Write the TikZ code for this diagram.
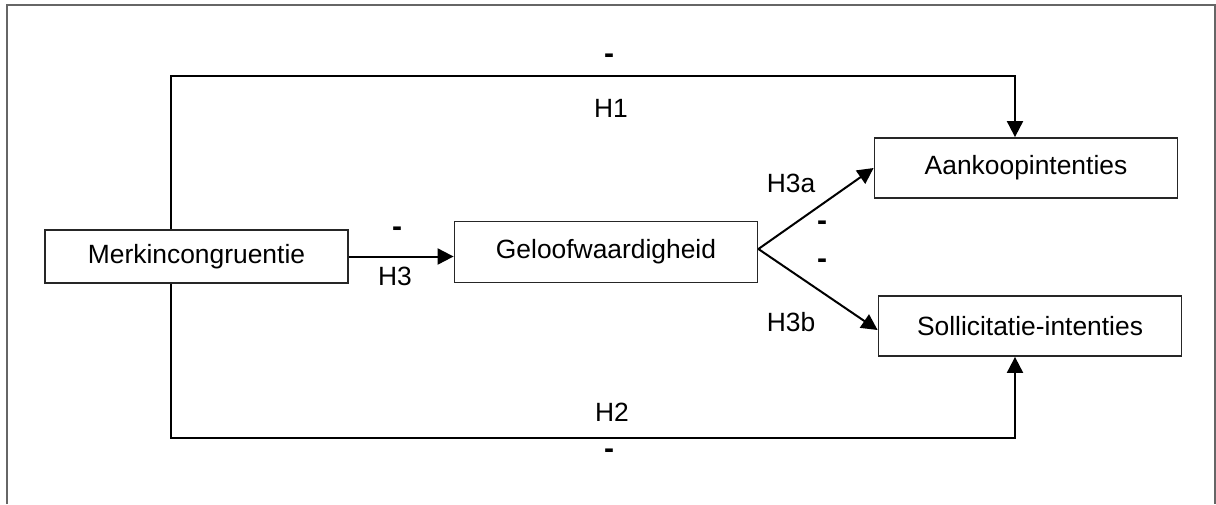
\documentclass[tikz,border=0pt]{standalone}
\usepackage{fontspec}
\setmainfont{Liberation Sans}
\usetikzlibrary{arrows.meta}
\begin{document}
\begin{tikzpicture}[x=0.5pt,y=-0.5pt,
  every node/.style={font=\fontsize{13.2pt}{15pt}\selectfont},
  box/.style={draw=black!85,line width=0.9pt,inner sep=0pt,minimum width=151.5pt,minimum height=30pt},
  conn/.style={line width=1pt,black},
  arr/.style={conn,-{Triangle[length=8pt,width=8pt]}},
  lbl/.style={inner sep=0pt},
  minus/.style={inner sep=0pt,font=\fontsize{15pt}{17pt}\selectfont\bfseries}]
\useasboundingbox (0,0) rectangle (1216,504);
\draw[gray!80!black,line width=0.8pt] (7,504) -- (7,5) -- (1215,5) -- (1215,504);
\node[box,minimum height=26.5pt] (merk) at (196.5,256.5) {Merkincongruentie};
\node[box,minimum height=30.5pt] (gel) at (606,252) {\raisebox{2pt}{Geloofwaardigheid}};
\node[box] (aank) at (1026,168) {Aankoopintenties};
\node[box] (soll) at (1030,326) {Sollicitatie-intenties};
\coordinate (tl) at (171,76);
\coordinate (tr) at (1015,76);
\coordinate (bl) at (171,438);
\coordinate (br) at (1015,438);
\draw[arr] (merk.north -| tl) -- (tl) -- (tr) -- (aank.north -| tr);
\draw[arr] (merk.south -| bl) -- (bl) -- (br) -- (soll.south -| br);
\draw[arr] (merk.east) -- (gel.west |- merk.east);
\draw[arr] ([yshift=1.5pt]gel.east) -- (aank.west);
\draw[arr] ([yshift=1.5pt]gel.east) -- ([yshift=-2pt]soll.west);
\node[minus] (m1) at (609,59) {-};
\node[lbl] (h1) at (611,108) {H1};
\node[lbl] (h2) at (612,412) {H2};
\node[minus] (m2) at (609,454) {-};
\node[minus] (m3) at (397,232) {-};
\node[lbl] (h3) at (395,276) {H3};
\node[lbl] (h3a) at (791,183) {H3a};
\node[lbl] (h3b) at (791,322) {H3b};
\node[minus] (m4) at (822,226) {-};
\node[minus] (m5) at (822,264) {-};
\end{tikzpicture}
\end{document}
